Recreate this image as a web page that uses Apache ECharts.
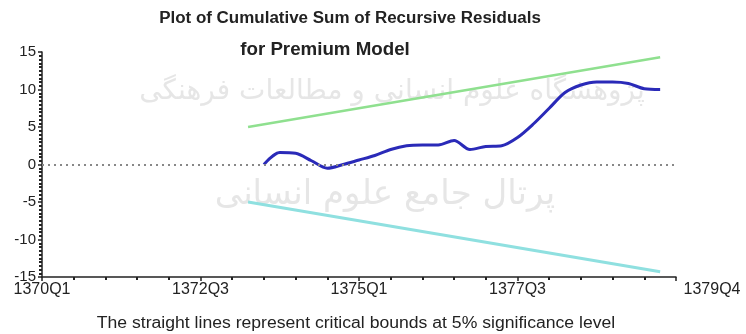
<!DOCTYPE html>
<html><head><meta charset="utf-8">
<script src="https://cdn.jsdelivr.net/npm/echarts@6/dist/echarts.min.js"></script>
<style>html,body{margin:0;padding:0;background:#fff}#c{width:746px;height:334px}</style>
</head><body><div id="c"></div>
<script>
// ---- data ----
const firstYear = 1370;
const quarters = [];
for (let y = 0; y < 10; y++) for (let q = 1; q <= 4; q++) quarters.push((firstYear + y) + 'Q' + q);
const tickLabels = ['1370Q1', '1372Q3', '1375Q1', '1377Q3', '1379Q4'];
const cusumFirstQuarter = '1373Q3';
const cusum = [0.0, 1.6, 1.5, 0.5, -0.5, 0.0, 0.6, 1.2, 2.0, 2.5, 2.6, 2.6, 3.2, 2.0, 2.4, 2.5, 3.6, 5.4, 7.5, 9.6, 10.6, 11.0, 11.0, 10.8, 10.1, 10.0];
const boundQuarters = ['1373Q2', '1379Q4'];
const upperBound = [5.0, 14.3];
const lowerBound = [-5.0, -14.3];
const titleLine1 = 'Plot of Cumulative Sum of Recursive Residuals';
const titleLine2 = 'for Premium Model';
const caption = 'The straight lines represent critical bounds at 5% significance level';
const watermark1 = 'پژوهشگاه علوم انسانی و مطالعات فرهنگی';
const watermark2 = 'پرتال جامع علوم انسانی';

// ---- build ----
const idx = q => quarters.indexOf(q);
const c0 = idx(cusumFirstQuarter);
const cusumData = cusum.map((v, i) => [c0 + i, v]);
const upperData = boundQuarters.map((q, i) => [idx(q), upperBound[i]]);
const lowerData = boundQuarters.map((q, i) => [idx(q), lowerBound[i]]);
const FONT = '"Liberation Sans", Arial, sans-serif';
const AR = '"DejaVu Sans", sans-serif';

function txt(text, x, y, size, bold, sx, fill, fam, z) {
  return {type: 'text', x: x, y: y, scaleX: sx, z: z || 10,
    style: {text: text, x: 0, y: 0, align: 'center', verticalAlign: 'middle', fontSize: size,
      fontWeight: bold ? 'bold' : 'normal', fontFamily: fam || FONT, fill: fill || '#222'}};
}

const chart = echarts.init(document.getElementById('c'), null, {renderer: 'canvas'});
chart.setOption({
  animation: false,
  backgroundColor: '#fff',
  grid: {left: 42, right: 70, top: 52, bottom: 57, containLabel: false},
  graphic: [
    txt(watermark1, 392, 92, 28, false, 1, '#e6e6e6', AR, -1),
    txt(watermark2, 385, 195, 34, false, 1, '#e6e6e6', AR, -1),
    txt(titleLine1, 350, 19, 16, true, 1.06),
    txt(titleLine2, 325, 50, 18, true, 1.04),
    txt(caption, 356, 324, 16, false, 1.1)
  ],
  xAxis: {
    type: 'value', min: 0, max: 40, interval: 10,
    splitLine: {show: false},
    axisLine: {onZero: false, lineStyle: {color: '#222', width: 1.5}},
    axisTick: {show: true, length: 4, lineStyle: {color: '#222', width: 1.5}},
    minorTick: {show: true, splitNumber: 5, length: 3, lineStyle: {color: '#222', width: 2}},
    axisLabel: {
      margin: 5, fontSize: 16, fontFamily: FONT, color: '#222',
      formatter: v => {
        const t = tickLabels[Math.round(v / 10)];
        return v === 40 ? '{last|' + t + '}' : t;
      },
      rich: {last: {padding: [0, 0, 0, 72], fontSize: 16, fontFamily: FONT, color: '#222'}}
    }
  },
  yAxis: {
    type: 'value', min: -15, max: 15, interval: 5,
    splitLine: {show: false},
    axisLine: {lineStyle: {color: '#222', width: 1.5}},
    axisTick: {show: true, length: 4, lineStyle: {color: '#222', width: 1.5}},
    minorTick: {show: true, splitNumber: 10, length: 3, lineStyle: {color: '#222', width: 2}},
    axisLabel: {margin: 6, fontSize: 15, fontFamily: FONT, color: '#222'}
  },
  series: [
    {
      type: 'line', data: upperData, symbol: 'none', silent: true,
      lineStyle: {color: '#8fe08f', width: 2.5}
    },
    {
      type: 'line', data: lowerData, symbol: 'none', silent: true,
      lineStyle: {color: '#8fe0e0', width: 3}
    },
    {
      type: 'line', data: cusumData, symbol: 'none', smooth: 0.3, silent: true,
      lineStyle: {color: '#2a2ab8', width: 3},
      markLine: {
        silent: true, symbol: 'none', label: {show: false},
        lineStyle: {color: '#888', type: [2, 4], width: 2},
        data: [{yAxis: 0}]
      }
    }
  ]
});
</script>
</body></html>
